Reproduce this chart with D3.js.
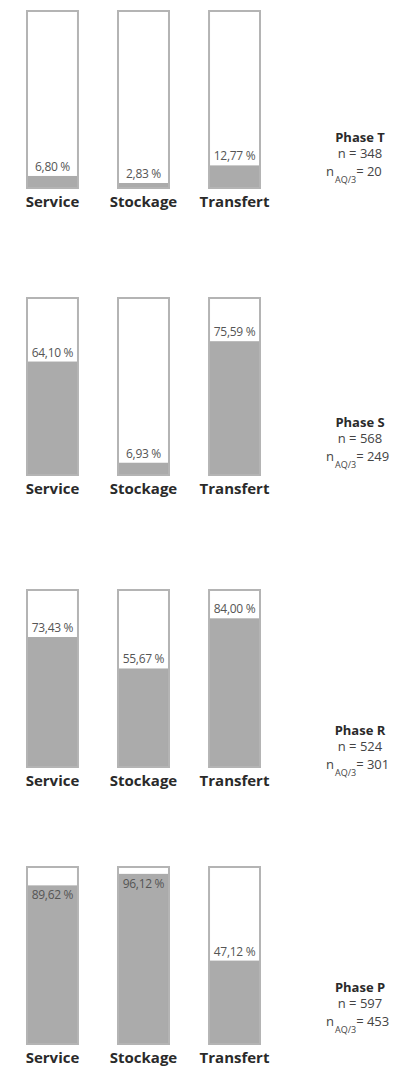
<!DOCTYPE html>
<html>
<head>
<meta charset="utf-8">
<script src="https://cdn.jsdelivr.net/npm/d3@7"></script>
<style>
  html, body { margin: 0; padding: 0; background: #fff; }
  svg { display: block; }
</style>
</head>
<body>
<script>
// Share of each activity type per phase (percent)
const categories = ["Service", "Stockage", "Transfert"];
const phases = ["Phase T", "Phase S", "Phase R", "Phase P"];
const valuesT = [6.80, 2.83, 12.77];
const valuesS = [64.10, 6.93, 75.59];
const valuesR = [73.43, 55.67, 84.00];
const valuesP = [89.62, 96.12, 47.12];
const nTotal = [348, 568, 524, 597];
const nAQ3 = [20, 249, 301, 453];

const seriesByPhase = [valuesT, valuesS, valuesR, valuesP];

// Layout of the four stacked panels
const W = 396, H = 1066;
const panelTop = [11, 298, 590, 867];
const phaseTitleOffset = [131, 129, 145, 125];
const barHeight = 177;

const fr = d3.formatLocale({ decimal: ",", thousands: " ", grouping: [3], currency: ["", " €"] });
const fmt = fr.format(".2f");

const svg = d3.select("body").append("svg")
  .attr("width", W).attr("height", H);

const x = d3.scaleBand()
  .domain(categories)
  .range([27, 260])
  .paddingInner(0.44)
  .paddingOuter(0);

const textFont = "'Open Sans', 'DejaVu Sans', sans-serif";

phases.forEach((phase, i) => {
  const top = panelTop[i];
  const y = d3.scaleLinear().domain([0, 100]).range([top + barHeight, top]);
  const g = svg.append("g").attr("class", "panel");
  const data = categories.map((c, j) => ({ cat: c, v: seriesByPhase[i][j] }));

  // filled portion
  g.selectAll("rect.fill").data(data).join("rect")
    .attr("class", "fill")
    .attr("x", d => x(d.cat))
    .attr("y", d => y(d.v))
    .attr("width", x.bandwidth())
    .attr("height", d => y(0) - y(d.v))
    .attr("fill", "#ababab");

  // frame
  g.selectAll("rect.frame").data(data).join("rect")
    .attr("class", "frame")
    .attr("x", d => x(d.cat))
    .attr("y", y(100))
    .attr("width", x.bandwidth())
    .attr("height", y(0) - y(100))
    .attr("fill", "none")
    .attr("stroke", "#b4b4b4")
    .attr("stroke-width", 2);

  // value labels: above the fill when space allows, otherwise just inside it
  g.selectAll("text.val").data(data).join("text")
    .attr("class", "val")
    .attr("x", d => x(d.cat) + x.bandwidth() / 2)
    .attr("y", d => (y(d.v) - y(100) >= 20) ? y(d.v) - 5 : y(d.v) + 14)
    .attr("text-anchor", "middle")
    .attr("font-family", textFont)
    .attr("font-size", 12)
    .attr("letter-spacing", -0.3)
    .attr("fill", "#555")
    .text(d => fmt(d.v) + " %");

  // category labels
  g.selectAll("text.cat").data(data).join("text")
    .attr("class", "cat")
    .attr("x", d => x(d.cat) + x.bandwidth() / 2)
    .attr("y", top + 196)
    .attr("text-anchor", "middle")
    .attr("font-family", textFont)
    .attr("font-weight", 700)
    .attr("font-size", 15)
    .attr("fill", "#2a2a2a")
    .text(d => d.cat);

  // phase summary
  const cx = 360;
  const ty = top + phaseTitleOffset[i];
  g.append("text")
    .attr("x", cx).attr("y", ty)
    .attr("text-anchor", "middle")
    .attr("font-family", textFont)
    .attr("font-weight", 700)
    .attr("font-size", 13)
    .attr("fill", "#2a2a2a")
    .text(phase);
  g.append("text")
    .attr("x", cx).attr("y", ty + 16)
    .attr("text-anchor", "middle")
    .attr("font-family", textFont)
    .attr("font-size", 13)
    .attr("fill", "#444")
    .text("n = " + nTotal[i]);
  const t = g.append("text")
    .attr("x", 326).attr("y", ty + 34)
    .attr("font-family", textFont)
    .attr("font-size", 13)
    .attr("fill", "#444");
  t.append("tspan").text("n");
  t.append("tspan").attr("dy", 7).attr("dx", 1).attr("font-size", 9).text("AQ/3");
  t.append("tspan").attr("dy", -7).text("= " + nAQ3[i]);
});
</script>
</body>
</html>
